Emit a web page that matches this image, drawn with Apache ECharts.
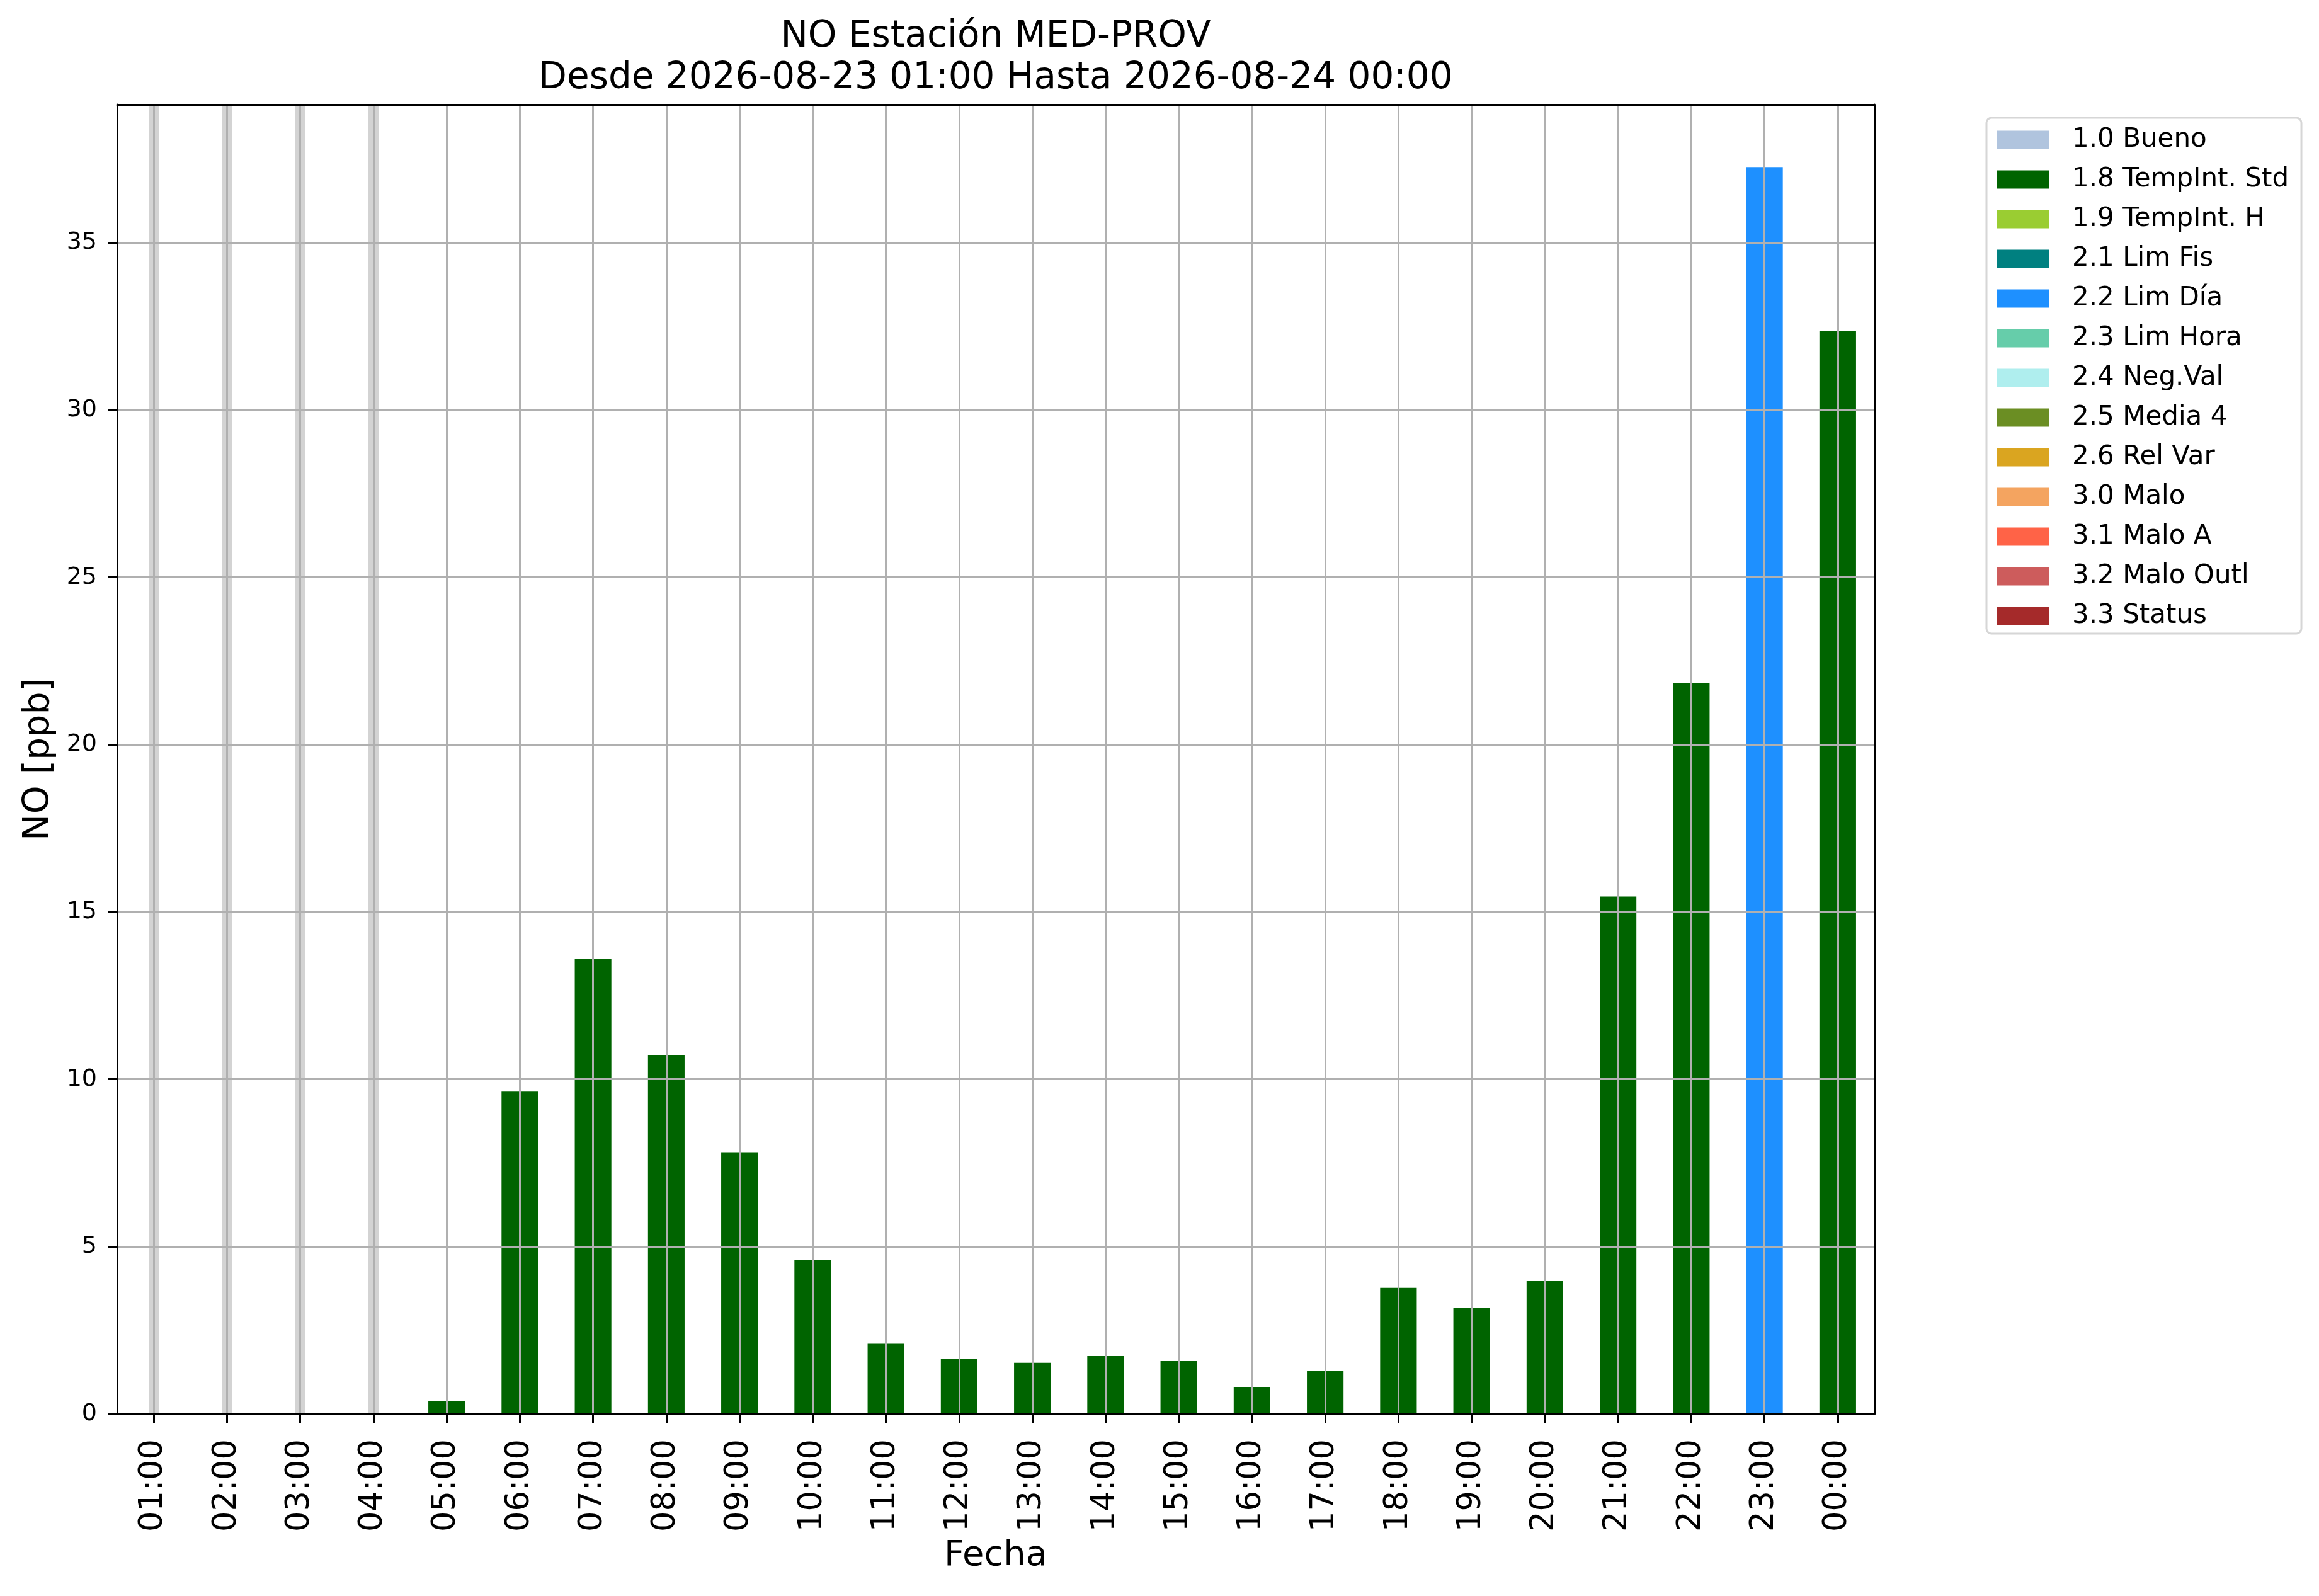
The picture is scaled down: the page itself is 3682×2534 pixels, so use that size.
<!DOCTYPE html>
<html>
<head>
<meta charset="utf-8">
<title>NO Estación MED-PROV</title>
<script src="https://cdn.jsdelivr.net/npm/echarts@6/dist/echarts.min.js"></script>
<style>
  html, body { margin: 0; padding: 0; background: #fff; }
  #chart { width: 3682px; height: 2534px; }
</style>
</head>
<body>
<div id="chart"></div>
<script>
// ------------------------------------------------------------
// Data
// ------------------------------------------------------------
const hours = ['01:00', '02:00', '03:00', '04:00', '05:00', '06:00', '07:00', '08:00',
               '09:00', '10:00', '11:00', '12:00', '13:00', '14:00', '15:00', '16:00',
               '17:00', '18:00', '19:00', '20:00', '21:00', '22:00', '23:00', '00:00'];

// null = no measurement for that hour (drawn as a grey band)
const values = [null, null, null, null, 0.38, 9.65, 13.61, 10.73,
                7.82, 4.61, 2.10, 1.65, 1.53, 1.73, 1.58, 0.81,
                1.30, 3.77, 3.18, 3.97, 15.46, 21.84, 37.26, 32.37];

// quality flag of each hour
const flags = [null, null, null, null, '1.8', '1.8', '1.8', '1.8',
               '1.8', '1.8', '1.8', '1.8', '1.8', '1.8', '1.8', '1.8',
               '1.8', '1.8', '1.8', '1.8', '1.8', '1.8', '2.2', '1.8'];

const flagCodes = ['1.0', '1.8', '1.9', '2.1', '2.2', '2.3', '2.4', '2.5', '2.6', '3.0', '3.1', '3.2', '3.3'];
const flagNames = ['1.0 Bueno', '1.8 TempInt. Std', '1.9 TempInt. H', '2.1 Lim Fis', '2.2 Lim Día',
                   '2.3 Lim Hora', '2.4 Neg.Val', '2.5 Media 4', '2.6 Rel Var', '3.0 Malo',
                   '3.1 Malo A', '3.2 Malo Outl', '3.3 Status'];
const flagColors = ['#b0c4de', '#006400', '#9acd32', '#008080', '#1e90ff', '#66cdaa', '#afeeee',
                    '#6b8e23', '#daa520', '#f4a460', '#ff6347', '#cd5c5c', '#a52a2a'];

const yTicks = [0, 5, 10, 15, 20, 25, 30, 35];
const yMax = 39.13;

// ------------------------------------------------------------
// Chart
// ------------------------------------------------------------
const FONT = 'DejaVu Sans';
const chart = echarts.init(document.getElementById('chart'));

// one bar series per quality flag, all on the same stack so they share a slot
const series = flagCodes.map((code, k) => ({
    name: flagNames[k],
    type: 'bar',
    stack: 'flags',
    barWidth: '50%',
    itemStyle: { color: flagColors[k] },
    data: values.map((v, i) => (flags[i] === code && v !== null) ? v : '-')
}));

// grey bands for the hours without data (kept below the grid lines)
series.push({
    name: 'Sin dato',
    type: 'line',
    data: [],
    z: 1,
    markLine: {
        z: 1,
        silent: true,
        symbol: ['none', 'none'],
        label: { show: false },
        lineStyle: { color: '#d3d3d3', width: 16, type: 'solid', opacity: 1 },
        data: hours.filter((h, i) => values[i] === null).map(h => ({ xAxis: h }))
    }
});

const axisBlack = { color: '#000', width: 3 };
const gridGrey = { color: '#b0b0b0', width: 3 };

const option = {
    animation: false,
    backgroundColor: '#fff',
    textStyle: { fontFamily: FONT },
    title: {
        text: 'NO Estación MED-PROV\nDesde 2026-08-23 01:00 Hasta 2026-08-24 00:00',
        left: 1581,
        top: 26,
        padding: 0,
        textAlign: 'center',
        textStyle: { fontFamily: FONT, fontSize: 58, fontWeight: 'normal', lineHeight: 66, color: '#000' }
    },
    legend: {
        orient: 'vertical',
        left: 3154,
        top: 187,
        data: flagNames,
        selectedMode: false,
        icon: 'rect',
        itemWidth: 84,
        itemHeight: 29,
        itemGap: 21,
        padding: [14, 20, 7, 16],
        borderColor: '#d6d6d6',
        borderWidth: 3,
        borderRadius: 8,
        backgroundColor: '#fff',
        textStyle: { fontFamily: FONT, fontSize: 42, color: '#000', padding: [0, 0, 0, 31] }
    },
    grid: { left: 186, top: 166, width: 2790, height: 2079 },
    xAxis: [{
        type: 'category',
        data: hours,
        boundaryGap: true,
        z: 5,
        axisLine: { show: true, lineStyle: axisBlack },
        axisTick: { show: true, alignWithLabel: true, length: 14, lineStyle: axisBlack },
        axisLabel: { interval: 0, rotate: 90, fontSize: 51, color: '#000', margin: 40, fontFamily: FONT },
        splitLine: { show: true, alignWithLabel: true, interval: 0, lineStyle: gridGrey },
        name: 'Fecha',
        nameLocation: 'middle',
        nameGap: 197,
        nameTextStyle: { fontFamily: FONT, fontSize: 56, color: '#000' }
    }, {
        type: 'category',
        data: hours,
        position: 'top',
        z: 6,
        axisLine: { show: true, onZero: false, lineStyle: axisBlack },
        axisTick: { show: false },
        axisLabel: { show: false },
        splitLine: { show: false }
    }],
    yAxis: [{
        type: 'value',
        min: 0,
        max: yMax,
        interval: 5,
        z: 5,
        axisLine: { show: true, lineStyle: axisBlack },
        axisTick: { show: true, length: 14, lineStyle: axisBlack, customValues: yTicks },
        axisLabel: { fontSize: 38, color: '#000', margin: 32, fontFamily: FONT, customValues: yTicks },
        splitLine: { show: true, lineStyle: gridGrey },
        name: 'NO [ppb]',
        nameLocation: 'middle',
        nameGap: 95,
        nameTextStyle: { fontFamily: FONT, fontSize: 57, color: '#000' }
    }, {
        type: 'value',
        min: 0,
        max: yMax,
        position: 'right',
        z: 6,
        axisLine: { show: true, onZero: false, lineStyle: axisBlack },
        axisTick: { show: false },
        axisLabel: { show: false },
        splitLine: { show: false }
    }],
    series: series
};

chart.setOption(option);
</script>
</body>
</html>
